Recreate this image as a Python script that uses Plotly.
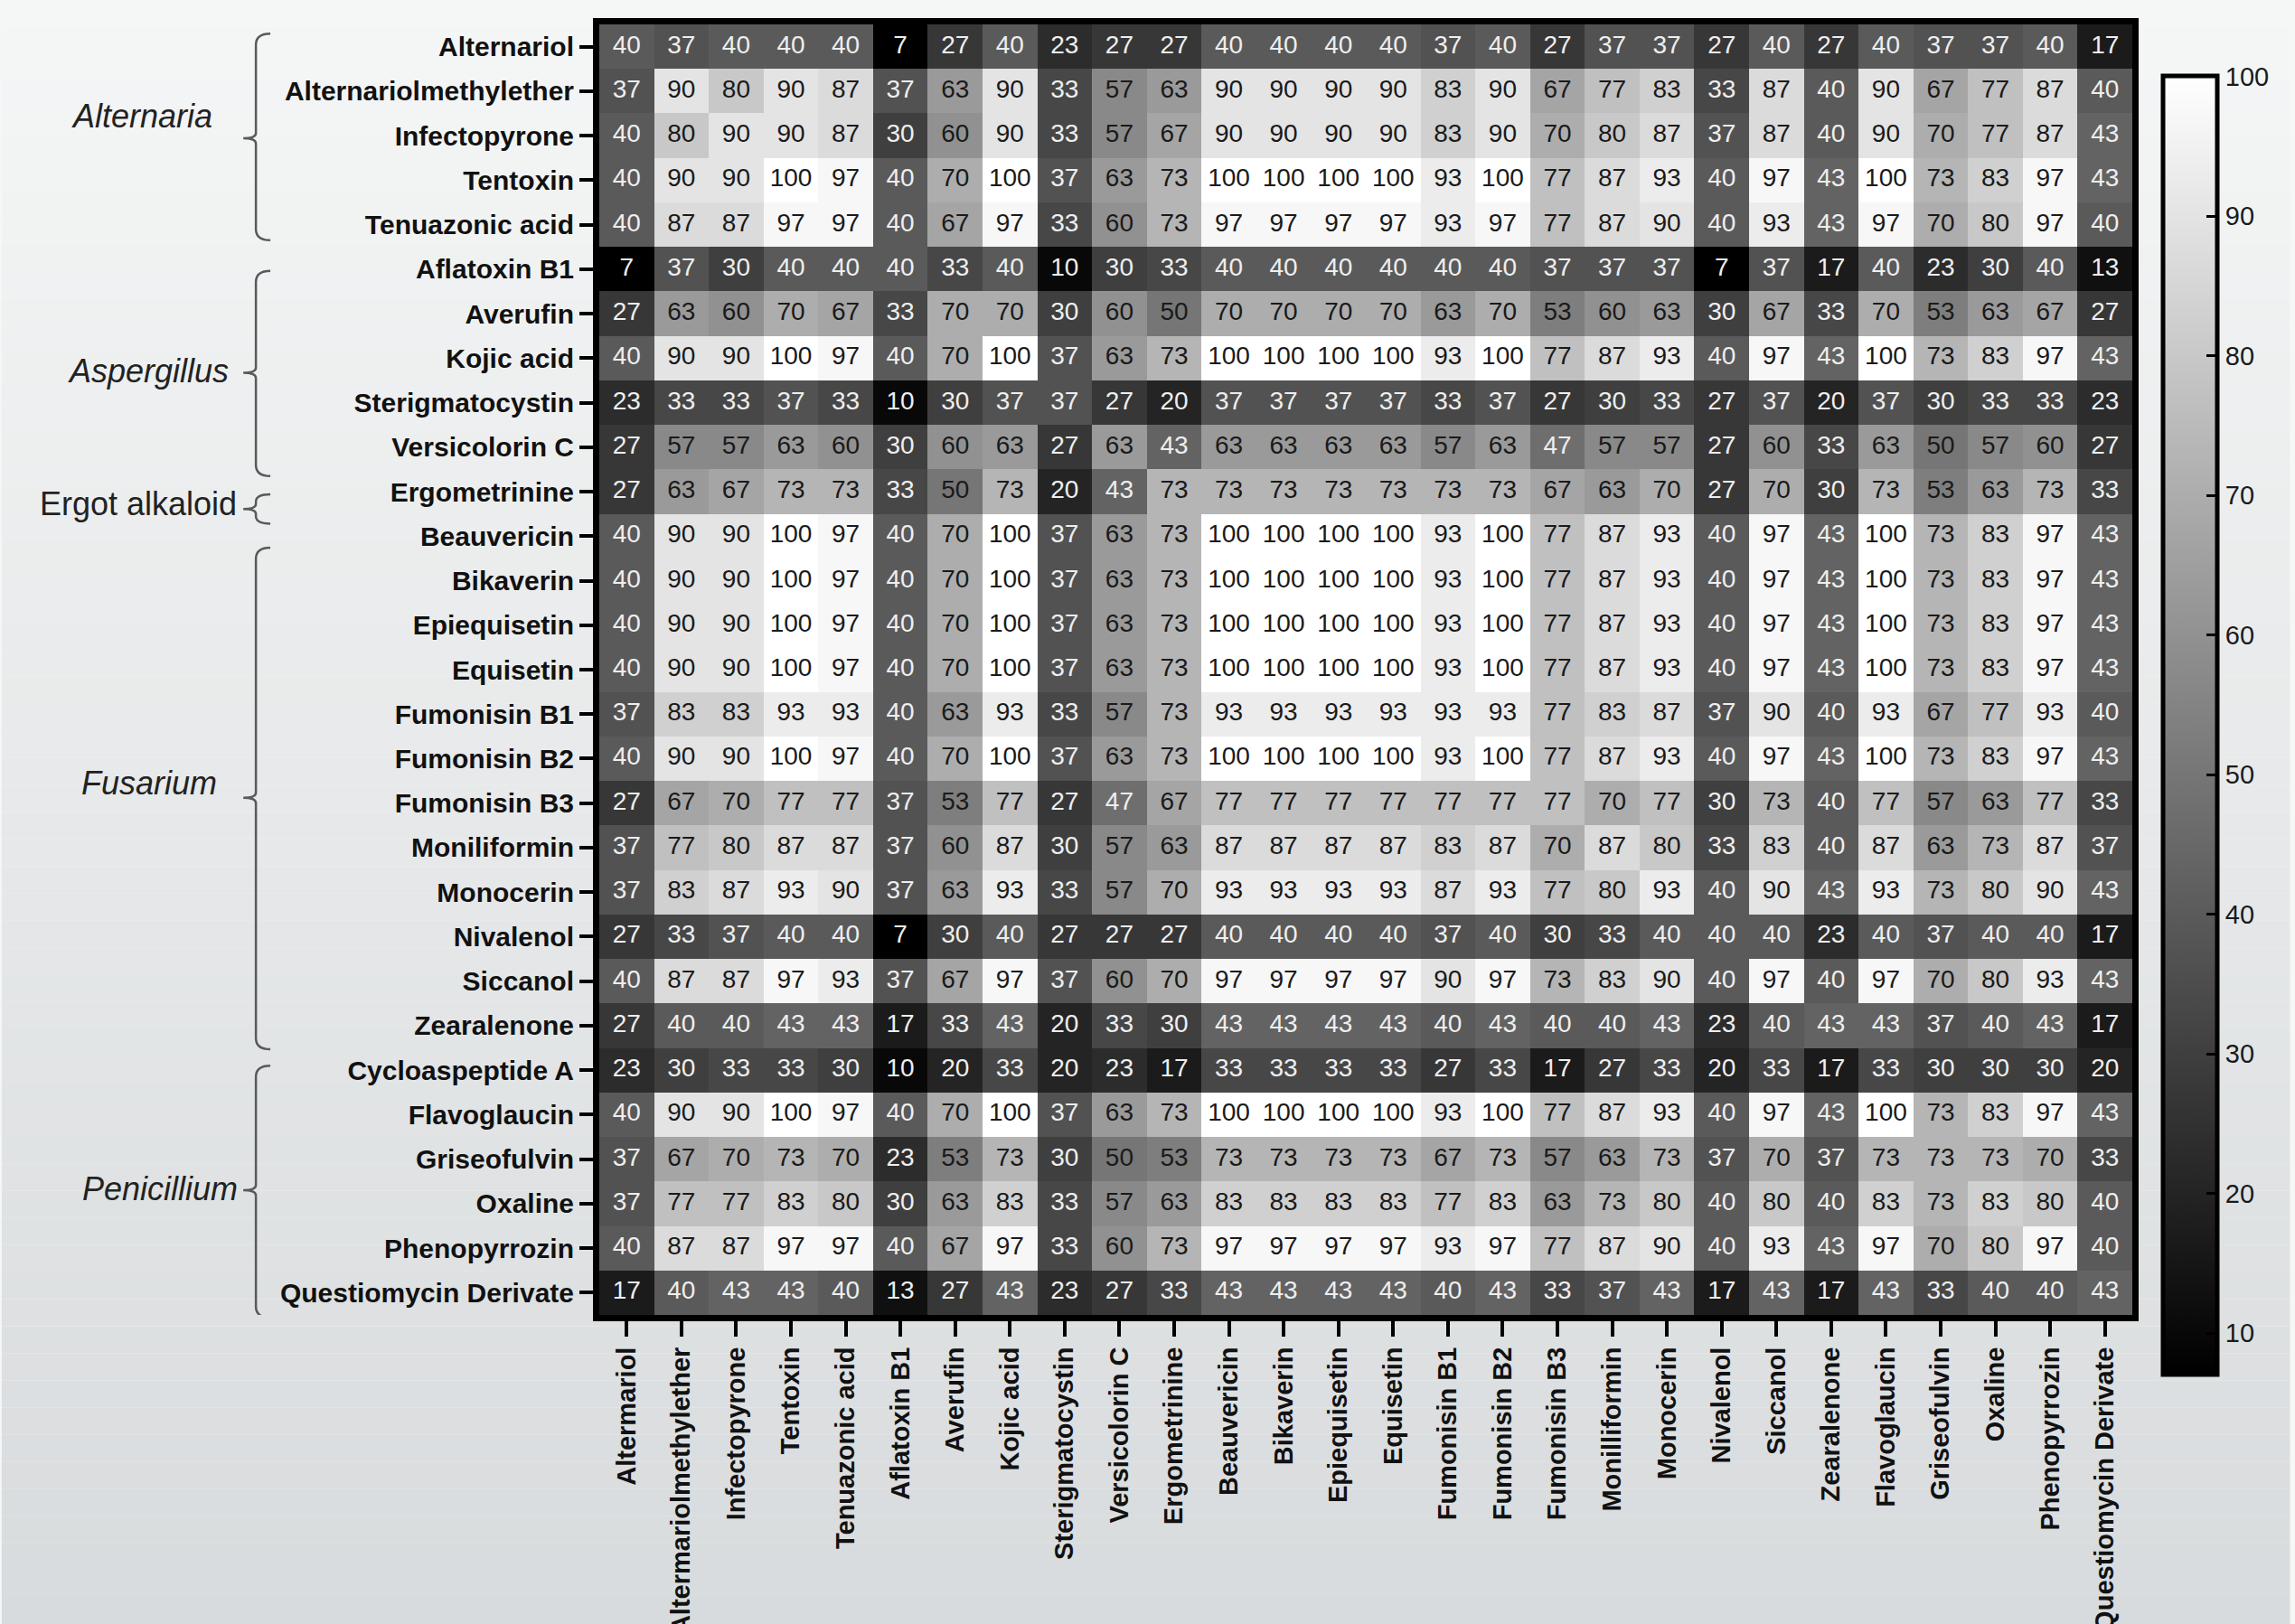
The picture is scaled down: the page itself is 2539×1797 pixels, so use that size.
import plotly.graph_objects as go

# ---------------------------------------------------------------- data
col_labels = [
    "Altermariol", "Altermariolmethylether", "Infectopyrone", "Tentoxin",
    "Tenuazonic acid", "Aflatoxin B1", "Averufin", "Kojic acid",
    "Sterigmatocystin", "Versicolorin C", "Ergometrinine", "Beauvericin",
    "Bikaverin", "Epiequisetin", "Equisetin", "Fumonisin B1", "Fumonisin B2",
    "Fumonisin B3", "Monilliformin", "Monocerin", "Nivalenol", "Siccanol",
    "Zearalenone", "Flavoglaucin", "Griseofulvin", "Oxaline", "Phenopyrrozin",
    "Questiomycin Derivate",
]

alternaria_names = ["Alternariol", "Alternariolmethylether", "Infectopyrone",
                    "Tentoxin", "Tenuazonic acid"]
alternaria_values = [
    [40, 37, 40, 40, 40, 7, 27, 40, 23, 27, 27, 40, 40, 40, 40, 37, 40, 27, 37, 37, 27, 40, 27, 40, 37, 37, 40, 17],
    [37, 90, 80, 90, 87, 37, 63, 90, 33, 57, 63, 90, 90, 90, 90, 83, 90, 67, 77, 83, 33, 87, 40, 90, 67, 77, 87, 40],
    [40, 80, 90, 90, 87, 30, 60, 90, 33, 57, 67, 90, 90, 90, 90, 83, 90, 70, 80, 87, 37, 87, 40, 90, 70, 77, 87, 43],
    [40, 90, 90, 100, 97, 40, 70, 100, 37, 63, 73, 100, 100, 100, 100, 93, 100, 77, 87, 93, 40, 97, 43, 100, 73, 83, 97, 43],
    [40, 87, 87, 97, 97, 40, 67, 97, 33, 60, 73, 97, 97, 97, 97, 93, 97, 77, 87, 90, 40, 93, 43, 97, 70, 80, 97, 40],
]

aspergillus_names = ["Aflatoxin B1", "Averufin", "Kojic acid",
                     "Sterigmatocystin", "Versicolorin C"]
aspergillus_values = [
    [7, 37, 30, 40, 40, 40, 33, 40, 10, 30, 33, 40, 40, 40, 40, 40, 40, 37, 37, 37, 7, 37, 17, 40, 23, 30, 40, 13],
    [27, 63, 60, 70, 67, 33, 70, 70, 30, 60, 50, 70, 70, 70, 70, 63, 70, 53, 60, 63, 30, 67, 33, 70, 53, 63, 67, 27],
    [40, 90, 90, 100, 97, 40, 70, 100, 37, 63, 73, 100, 100, 100, 100, 93, 100, 77, 87, 93, 40, 97, 43, 100, 73, 83, 97, 43],
    [23, 33, 33, 37, 33, 10, 30, 37, 37, 27, 20, 37, 37, 37, 37, 33, 37, 27, 30, 33, 27, 37, 20, 37, 30, 33, 33, 23],
    [27, 57, 57, 63, 60, 30, 60, 63, 27, 63, 43, 63, 63, 63, 63, 57, 63, 47, 57, 57, 27, 60, 33, 63, 50, 57, 60, 27],
]

ergot_names = ["Ergometrinine"]
ergot_values = [
    [27, 63, 67, 73, 73, 33, 50, 73, 20, 43, 73, 73, 73, 73, 73, 73, 73, 67, 63, 70, 27, 70, 30, 73, 53, 63, 73, 33],
]

fusarium_names = ["Beauvericin", "Bikaverin", "Epiequisetin", "Equisetin",
                  "Fumonisin B1", "Fumonisin B2", "Fumonisin B3", "Moniliformin",
                  "Monocerin", "Nivalenol", "Siccanol", "Zearalenone"]
fusarium_values = [
    [40, 90, 90, 100, 97, 40, 70, 100, 37, 63, 73, 100, 100, 100, 100, 93, 100, 77, 87, 93, 40, 97, 43, 100, 73, 83, 97, 43],
    [40, 90, 90, 100, 97, 40, 70, 100, 37, 63, 73, 100, 100, 100, 100, 93, 100, 77, 87, 93, 40, 97, 43, 100, 73, 83, 97, 43],
    [40, 90, 90, 100, 97, 40, 70, 100, 37, 63, 73, 100, 100, 100, 100, 93, 100, 77, 87, 93, 40, 97, 43, 100, 73, 83, 97, 43],
    [40, 90, 90, 100, 97, 40, 70, 100, 37, 63, 73, 100, 100, 100, 100, 93, 100, 77, 87, 93, 40, 97, 43, 100, 73, 83, 97, 43],
    [37, 83, 83, 93, 93, 40, 63, 93, 33, 57, 73, 93, 93, 93, 93, 93, 93, 77, 83, 87, 37, 90, 40, 93, 67, 77, 93, 40],
    [40, 90, 90, 100, 97, 40, 70, 100, 37, 63, 73, 100, 100, 100, 100, 93, 100, 77, 87, 93, 40, 97, 43, 100, 73, 83, 97, 43],
    [27, 67, 70, 77, 77, 37, 53, 77, 27, 47, 67, 77, 77, 77, 77, 77, 77, 77, 70, 77, 30, 73, 40, 77, 57, 63, 77, 33],
    [37, 77, 80, 87, 87, 37, 60, 87, 30, 57, 63, 87, 87, 87, 87, 83, 87, 70, 87, 80, 33, 83, 40, 87, 63, 73, 87, 37],
    [37, 83, 87, 93, 90, 37, 63, 93, 33, 57, 70, 93, 93, 93, 93, 87, 93, 77, 80, 93, 40, 90, 43, 93, 73, 80, 90, 43],
    [27, 33, 37, 40, 40, 7, 30, 40, 27, 27, 27, 40, 40, 40, 40, 37, 40, 30, 33, 40, 40, 40, 23, 40, 37, 40, 40, 17],
    [40, 87, 87, 97, 93, 37, 67, 97, 37, 60, 70, 97, 97, 97, 97, 90, 97, 73, 83, 90, 40, 97, 40, 97, 70, 80, 93, 43],
    [27, 40, 40, 43, 43, 17, 33, 43, 20, 33, 30, 43, 43, 43, 43, 40, 43, 40, 40, 43, 23, 40, 43, 43, 37, 40, 43, 17],
]

penicillium_names = ["Cycloaspeptide A", "Flavoglaucin", "Griseofulvin",
                     "Oxaline", "Phenopyrrozin", "Questiomycin Derivate"]
penicillium_values = [
    [23, 30, 33, 33, 30, 10, 20, 33, 20, 23, 17, 33, 33, 33, 33, 27, 33, 17, 27, 33, 20, 33, 17, 33, 30, 30, 30, 20],
    [40, 90, 90, 100, 97, 40, 70, 100, 37, 63, 73, 100, 100, 100, 100, 93, 100, 77, 87, 93, 40, 97, 43, 100, 73, 83, 97, 43],
    [37, 67, 70, 73, 70, 23, 53, 73, 30, 50, 53, 73, 73, 73, 73, 67, 73, 57, 63, 73, 37, 70, 37, 73, 73, 73, 70, 33],
    [37, 77, 77, 83, 80, 30, 63, 83, 33, 57, 63, 83, 83, 83, 83, 77, 83, 63, 73, 80, 40, 80, 40, 83, 73, 83, 80, 40],
    [40, 87, 87, 97, 97, 40, 67, 97, 33, 60, 73, 97, 97, 97, 97, 93, 97, 77, 87, 90, 40, 93, 43, 97, 70, 80, 97, 40],
    [17, 40, 43, 43, 40, 13, 27, 43, 23, 27, 33, 43, 43, 43, 43, 40, 43, 33, 37, 43, 17, 43, 17, 43, 33, 40, 40, 43],
]

group_labels = ["Alternaria", "Aspergillus", "Ergot alkaloid", "Fusarium", "Penicillium"]
group_italic = [True, True, False, True, True]

colorbar_ticks = [10, 20, 30, 40, 50, 60, 70, 80, 90, 100]

# ---------------------------------------------------------------- assemble
row_labels = (alternaria_names + aspergillus_names + ergot_names
              + fusarium_names + penicillium_names)
z = (alternaria_values + aspergillus_values + ergot_values
     + fusarium_values + penicillium_values)

n_rows, n_cols = len(row_labels), len(col_labels)
xs = list(range(n_cols))
ys = list(range(n_rows))
zmin = min(min(r) for r in z)
zmax = max(max(r) for r in z)

# ---------------------------------------------------------------- geometry
W, H = 2539, 1797
ML, MR, MT, MB = 663, 175, 27, 342
PW, PH = W - ML - MR, H - MT - MB


def xp(px):
    """horizontal pixel -> paper fraction"""
    return (px - ML) / PW


def yp(px):
    """vertical pixel -> paper fraction"""
    return 1 - (px - MT) / PH


FONT = "Arial, Liberation Sans, Helvetica, sans-serif"

fig = go.Figure()

fig.add_trace(go.Heatmap(
    z=z, x=xs, y=ys,
    zmin=zmin, zmax=zmax,
    colorscale=[[0, "#000000"], [1, "#ffffff"]],
    hoverinfo="skip",
    colorbar=dict(
        thickness=60, thicknessmode="pixels",
        len=1437, lenmode="pixels",
        x=xp(2398), xanchor="left", xpad=0,
        y=yp(803), yanchor="middle", ypad=0,
        outlinewidth=5, outlinecolor="#000000",
        tickmode="array", tickvals=colorbar_ticks,
        ticks="inside", ticklen=14, tickwidth=3, tickcolor="#000000",
        tickfont=dict(family=FONT, size=29, color="#1a1a1a"),
    ),
))

# cell value labels: light text on dark cells, dark text on light cells
dark_x, dark_y, dark_t, light_x, light_y, light_t = [], [], [], [], [], []
for i, row in enumerate(z):
    for j, v in enumerate(row):
        if v < 48:
            light_x.append(j); light_y.append(i); light_t.append(str(v))
        else:
            dark_x.append(j); dark_y.append(i); dark_t.append(str(v))

for tx, ty, tt, col in [(light_x, light_y, light_t, "#eeeeee"),
                        (dark_x, dark_y, dark_t, "#1a1a1a")]:
    fig.add_trace(go.Scatter(
        x=tx, y=ty, text=tt, mode="text",
        textposition="middle center",
        textfont=dict(family=FONT, size=28, color=col),
        hoverinfo="skip", showlegend=False,
    ))

# ---------------------------------------------------------------- background
top_rgb = (245, 246, 246)
bot_rgb = (216, 219, 221)
n_bands = 60
for k in range(n_bands):
    t = (k + 0.5) / n_bands
    c = tuple(round(a + (b - a) * t) for a, b in zip(top_rgb, bot_rgb))
    fig.add_shape(
        type="rect", xref="paper", yref="paper", layer="below",
        x0=xp(0), x1=xp(W), y0=yp(H * k / n_bands), y1=yp(H * (k + 1) / n_bands),
        line_width=0, fillcolor="rgb(%d,%d,%d)" % c,
    )

# ---------------------------------------------------------------- genus braces
# (top row, bottom row, tip row) in row units, label centre (px, row)
brace_spans = [(-0.29, 4.35, 2.06), (5.04, 9.65, 7.33), (10.06, 10.72, 10.39),
               (11.26, 22.53, 16.88), (22.90, 28.56, 25.70)]
label_pos = [(156, 1.56), (163, 7.29), (151, 10.28), (164, 16.54), (176, 25.67)]

x_cap, x_bar, x_tip = xp(298), xp(282), xp(268)
for (top, bot, tip), (lx, ly), name, ital in zip(brace_spans, label_pos,
                                                  group_labels, group_italic):
    r = min(0.25, (bot - top) / 4)
    r2 = min(0.12, (bot - top) / 6)
    path = (f"M {x_cap},{top} Q {x_bar},{top} {x_bar},{top + r} "
            f"L {x_bar},{tip - r2} Q {x_bar},{tip} {x_tip},{tip} "
            f"Q {x_bar},{tip} {x_bar},{tip + r2} "
            f"L {x_bar},{bot - r} Q {x_bar},{bot} {x_cap},{bot}")
    fig.add_shape(type="path", xref="paper", yref="y", path=path,
                  line=dict(color="#5a5a5a", width=2.5))
    fig.add_annotation(
        x=xp(lx), y=ly, xref="paper", yref="y", showarrow=False,
        xanchor="center", yanchor="middle",
        text=f"<i>{name}</i>" if ital else name,
        font=dict(family=FONT, size=36, color="#222222"),
    )

# ---------------------------------------------------------------- axes
fig.update_xaxes(
    range=[-0.5, n_cols - 0.5],
    tickmode="array", tickvals=xs, ticktext=col_labels,
    tickangle=-90, ticks="outside", ticklen=17, tickwidth=4,
    tickcolor="#000000",
    tickfont=dict(family=FONT, size=29, color="#111111", weight="bold"),
    showline=True, mirror=True, linewidth=7, linecolor="#000000",
    showgrid=False, zeroline=False, automargin=False, fixedrange=True,
)
fig.update_yaxes(
    range=[n_rows - 0.5, -0.5],
    tickmode="array", tickvals=ys, ticktext=row_labels,
    ticks="outside", ticklen=15, tickwidth=4, tickcolor="#000000",
    tickfont=dict(family=FONT, size=30, color="#111111", weight="bold"),
    showline=True, mirror=True, linewidth=7, linecolor="#000000",
    showgrid=False, zeroline=False, automargin=False, fixedrange=True,
)

fig.update_layout(
    width=W, height=H,
    margin=dict(l=ML, r=MR, t=MT, b=MB, pad=0),
    paper_bgcolor="rgb(%d,%d,%d)" % top_rgb,
    plot_bgcolor="rgba(0,0,0,0)",
    showlegend=False,
    font=dict(family=FONT),
)

fig.write_html("out.html")
